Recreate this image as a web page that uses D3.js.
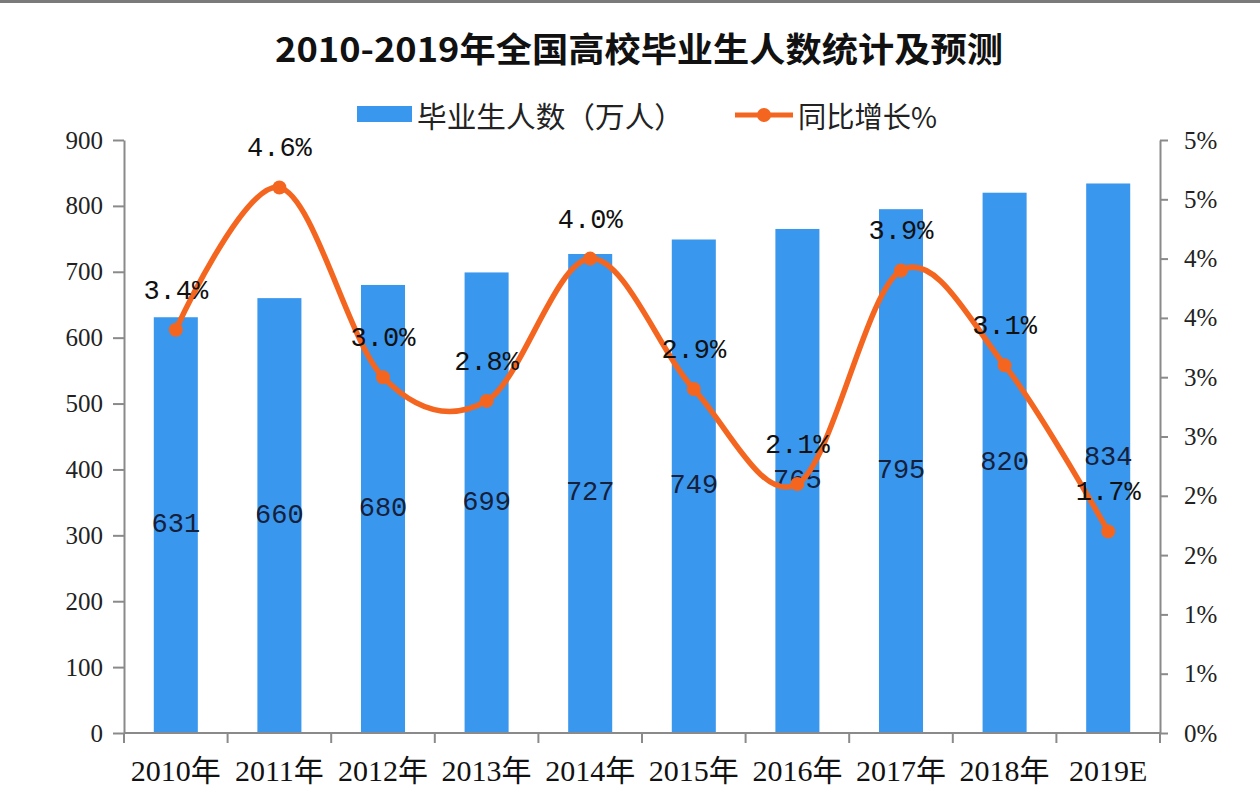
<!DOCTYPE html>
<html><head><meta charset="utf-8">
<script src="https://cdn.jsdelivr.net/npm/d3@7"></script>
<style>
html,body{margin:0;padding:0;background:#fff;}
svg{display:block;}
</style></head>
<body>
<svg id="chart" width="1260" height="804"></svg>
<script>
const title = "2010-2019年全国高校毕业生人数统计及预测";
const years = ["2010年","2011年","2012年","2013年","2014年","2015年","2016年","2017年","2018年","2019E"];
const graduates = [631,660,680,699,727,749,765,795,820,834];
const growth = [3.4,4.6,3.0,2.8,4.0,2.9,2.1,3.9,3.1,1.7];
const leftTicks = [0,100,200,300,400,500,600,700,800,900];
const rightTickValues = [0,0.5,1,1.5,2,2.5,3,3.5,4,4.5,5];
const rightTickLabels = ["0%","1%","1%","2%","2%","3%","3%","4%","4%","5%","5%"];
const seriesNames = ["毕业生人数（万人）","同比增长%"];

const svg = d3.select("#chart");
const W = 1260, H = 804;
const m = {left:124, right:100, top:140, bottom:71};
const x0 = m.left, x1 = W - m.right, yTop = m.top, yBot = H - m.bottom;

const BLUE = "#3a97ee", ORANGE = "#f4661f", AX = "#8a8a8a";
const serif = "'Liberation Serif','Noto Sans CJK SC',serif";
const mono = "'Liberation Mono','DejaVu Sans Mono',monospace";
const cjk = "'Noto Sans CJK SC','Liberation Serif',sans-serif";

// top strip
svg.append("rect").attr("x",0).attr("y",0).attr("width",W).attr("height",3).attr("fill","#7a7a7a");

const x = d3.scaleBand().domain(years).range([x0,x1]).paddingInner(0.575).paddingOuter(0.2875);
const yL = d3.scaleLinear().domain([0,900]).range([yBot,yTop]);
const yR = d3.scaleLinear().domain([0,5]).range([yBot,yTop]);

// title
svg.append("text").attr("x",639).attr("y",47).attr("text-anchor","middle")
  .attr("dominant-baseline","central").attr("font-family",cjk).attr("font-weight",700)
  .attr("font-size",34).attr("fill","#111").attr("textLength",728).attr("lengthAdjust","spacingAndGlyphs")
  .text(title);

// legend
const lg = svg.append("g");
lg.append("rect").attr("x",357).attr("y",106).attr("width",55).attr("height",16).attr("fill",BLUE);
lg.append("text").attr("x",417).attr("y",115).attr("dominant-baseline","central")
  .attr("font-family",cjk).attr("font-size",29).attr("fill","#222")
  .attr("textLength",267).attr("lengthAdjust","spacingAndGlyphs").text(seriesNames[0]);
lg.append("line").attr("x1",735).attr("x2",793).attr("y1",115).attr("y2",115)
  .attr("stroke",ORANGE).attr("stroke-width",5);
lg.append("circle").attr("cx",764).attr("cy",115).attr("r",7).attr("fill",ORANGE);
lg.append("text").attr("x",798).attr("y",115).attr("dominant-baseline","central")
  .attr("font-family",cjk).attr("font-size",29).attr("fill","#222")
  .attr("textLength",139).attr("lengthAdjust","spacingAndGlyphs").text(seriesNames[1]);

// bars
const step = x.step();
svg.append("g").selectAll("rect").data(graduates).join("rect")
  .attr("x",(d,i)=>x(years[i])).attr("width",x.bandwidth())
  .attr("y",d=>yL(d)).attr("height",d=>yBot-yL(d)).attr("fill",BLUE);

// axes
const gL = svg.append("g").attr("transform",`translate(${x0},0)`)
  .call(d3.axisLeft(yL).tickValues(leftTicks).tickSize(11).tickPadding(10).tickSizeOuter(0));
gL.select(".domain").attr("stroke",AX).attr("stroke-width",2);
gL.selectAll(".tick line").attr("stroke",AX).attr("stroke-width",2);
gL.selectAll(".tick text").attr("font-family",serif).attr("font-size",25).attr("fill","#222");

const gR = svg.append("g").attr("transform",`translate(${x1},0)`)
  .call(d3.axisRight(yR).tickValues(rightTickValues).tickSize(8).tickPadding(16).tickSizeOuter(0)
    .tickFormat((d,i)=>rightTickLabels[i]));
gR.select(".domain").attr("stroke",AX).attr("stroke-width",2);
gR.selectAll(".tick line").attr("stroke",AX).attr("stroke-width",2);
gR.selectAll(".tick text").attr("font-family",serif).attr("font-size",25).attr("fill","#222");

// x axis: ticks at band boundaries
const gX = svg.append("g").attr("transform",`translate(0,${yBot})`)
  .call(d3.axisBottom(x).tickSize(0).tickPadding(25));
gX.select(".domain").remove();
gX.append("line").attr("x1",x0).attr("x2",x1).attr("y1",0).attr("y2",0).attr("stroke",AX).attr("stroke-width",2);
gX.selectAll(".bnd").data(d3.range(years.length+1)).join("line").attr("class","bnd")
  .attr("x1",i=>x0+i*step).attr("x2",i=>x0+i*step).attr("y1",0).attr("y2",10)
  .attr("stroke",AX).attr("stroke-width",2);
gX.selectAll(".tick text").attr("font-family",serif).attr("font-size",30).attr("fill","#111")
  .attr("dy","0.75em");

// bar value labels
svg.append("g").selectAll("text").data(graduates).join("text")
  .attr("x",(d,i)=>x(years[i])+x.bandwidth()/2)
  .attr("y",d=>(yL(d)+yBot)/2).attr("text-anchor","middle").attr("dominant-baseline","central")
  .attr("font-family",mono).attr("font-size",27).attr("fill","#16203a").text(d=>d);

// line
const cx = (d,i)=>x(years[i])+x.bandwidth()/2;
const line = d3.line().x((d,i)=>cx(d,i)).y(d=>yR(d)).curve(d3.curveCardinal.tension(0));
svg.append("path").datum(growth).attr("d",line).attr("fill","none")
  .attr("stroke",ORANGE).attr("stroke-width",5.5).attr("stroke-linejoin","round");
svg.append("g").selectAll("circle").data(growth).join("circle")
  .attr("cx",cx).attr("cy",d=>yR(d)).attr("r",7).attr("fill",ORANGE);

// line labels
svg.append("g").selectAll("text").data(growth).join("text")
  .attr("x",cx).attr("y",d=>yR(d)-38).attr("text-anchor","middle").attr("dominant-baseline","central")
  .attr("font-family",mono).attr("font-size",27).attr("fill","#111")
  .text(d=>d3.format(".1f")(d)+"%");
</script>
</body></html>
